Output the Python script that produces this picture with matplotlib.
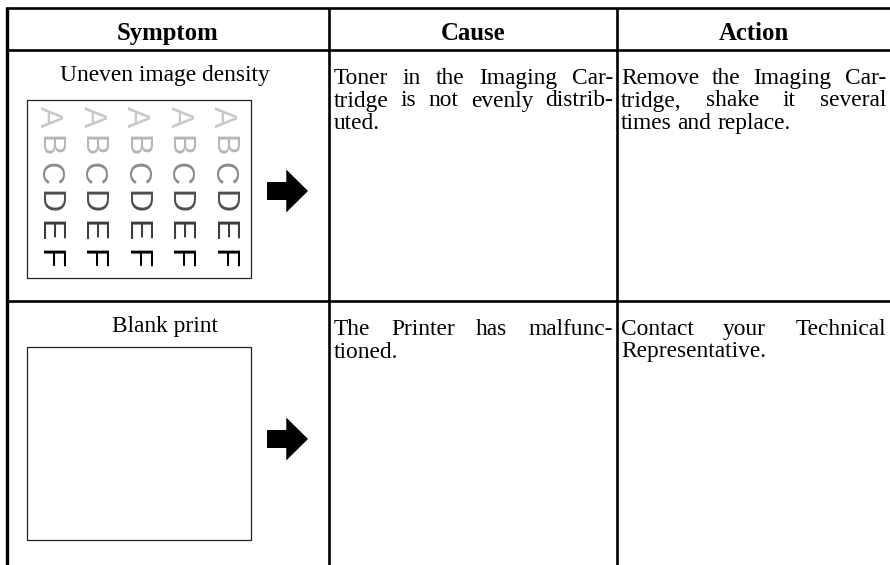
"""
Troubleshooting table: print quality symptoms, causes and actions.
"""

import matplotlib
matplotlib.use("Agg")
import matplotlib.pyplot as plt
from matplotlib.patches import Polygon, Rectangle

# Table content.
headers = ["Symptom", "Cause", "Action"]
symptoms = ["Uneven image density", "Blank print"]
causes = [
    ["Toner in the Imaging Car-", "tridge is not evenly distrib-", "uted."],
    ["The Printer has malfunc-", "tioned."],
]
actions = [
    ["Remove the Imaging Car-", "tridge, shake it several", "times and replace."],
    ["Contact your Technical", "Representative."],
]
# Sample print for the first symptom: letters fade from light to dark.
sample_letters = ["A", "B", "C", "D", "E", "F"]
sample_greys = ["#c8c8c8", "#b6b6b6", "#8c8c8c", "#4e4e4e", "#3c3c3c", "#000000"]
sample_columns = 5

SERIF = "Liberation Serif"
W, H = 890, 565
BODY = 16.8

fig = plt.figure(figsize=(W / 100, H / 100), dpi=100)
ax = fig.add_axes([0, 0, 1, 1])
ax.set_xlim(0, W)
ax.set_ylim(H, 0)
ax.axis("off")
renderer = fig.canvas.get_renderer()

# Grid geometry (pixels).
col_x = [7, 329, 617, W]
row_y = [8, 50, 301, H]
lw = 1.9


def justify(lines, x0, x1, y0, step, size=BODY):
    """Draw lines of justified text; the last line stays left aligned."""
    for i, line in enumerate(lines):
        y = y0 + i * step
        words = line.split(" ")
        texts = [ax.text(0, y, w, fontsize=size, family=SERIF, va="baseline")
                 for w in words]
        widths = [t.get_window_extent(renderer).width for t in texts]
        if i == len(lines) - 1 or len(words) == 1:
            gap = size * 100 / 72 * 0.25
        else:
            gap = (x1 - x0 - sum(widths)) / (len(words) - 1)
        x = x0
        for t, w in zip(texts, widths):
            t.set_x(x)
            x += w + gap


def arrow(yc, x0=267, x1=308):
    """Black block arrow pointing right."""
    xm = x0 + 0.47 * (x1 - x0)
    pts = [(x0, yc - 9), (xm, yc - 9), (xm, yc - 21.5), (x1, yc),
           (xm, yc + 21.5), (xm, yc + 9), (x0, yc + 9)]
    ax.add_patch(Polygon(pts, closed=True, color="black", lw=0))


# Rules.
for y in row_y[:3]:
    ax.plot([col_x[0] - 1, W], [y, y], color="black", lw=lw,
            solid_capstyle="butt")
ax.plot([col_x[0], col_x[0]], [row_y[0] - 1, H], color="black", lw=2.4,
        solid_capstyle="butt")
for x in col_x[1:3]:
    ax.plot([x, x], [row_y[0], H], color="black", lw=lw, solid_capstyle="butt")

# Header.
for i, h in enumerate(headers):
    ax.text((col_x[i] + col_x[i + 1]) / 2, 40, h, fontsize=17.8,
            family=SERIF, weight="bold", ha="center", va="baseline")

# Rows.
text_base = [81, 332]
for r in range(2):
    ax.text((col_x[0] + col_x[1]) / 2 - 3, text_base[r], symptoms[r],
            fontsize=BODY, family=SERIF, ha="center", va="baseline")
    justify(causes[r], col_x[1] + 5, col_x[2] - 4, text_base[r] + 3, 22.5)
    justify(actions[r], col_x[2] + 4, W - 4, text_base[r] + 3, 22.5)

# Sample print boxes.
box_x0, box_x1 = 27, 251
boxes = [(100, 278), (347, 540)]
for y0, y1 in boxes:
    ax.add_patch(Rectangle((box_x0, y0), box_x1 - box_x0, y1 - y0,
                           fill=False, ec="#222222", lw=0.9))

# Faded letters in the first box.
cx = [48 + j * 43.5 for j in range(sample_columns)]
cy = [117 + k * 28.3 for k in range(len(sample_letters))]
for j in range(sample_columns):
    for k, (letter, grey) in enumerate(zip(sample_letters, sample_greys)):
        ax.text(cx[j], cy[k], letter, fontsize=23, family="Liberation Sans",
                color=grey, rotation=-90, ha="center", va="center")

arrow(191)
arrow(439)

fig.savefig("out.png", dpi=100)
